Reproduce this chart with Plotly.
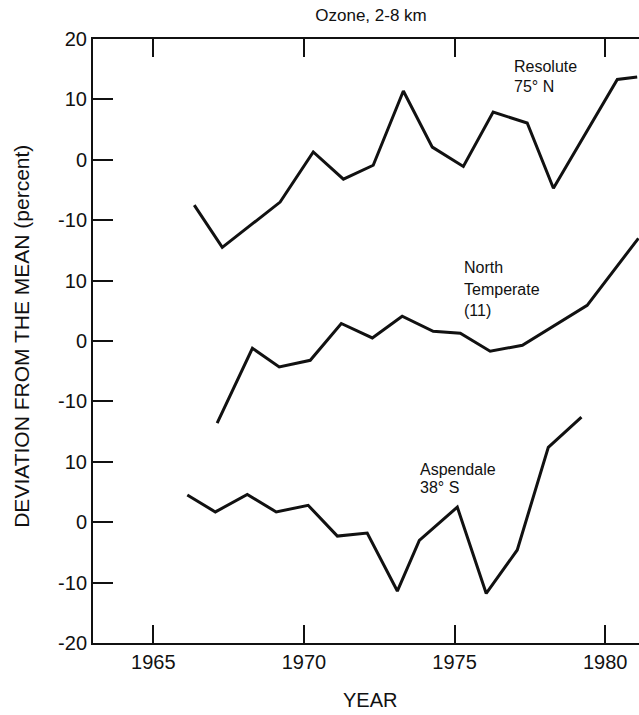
import plotly.graph_objects as go

# Ozone deviation from the mean (percent), 2-8 km layer
resolute_years = [1966.36, 1967.29, 1969.21, 1970.31, 1971.31, 1972.30, 1973.30,
                  1974.26, 1975.29, 1976.28, 1977.41, 1978.28, 1980.40, 1981.06]
resolute_vals = [-7.5, -14.5, -7.0, 1.3, -3.2, -0.9, 11.4,
                 2.1, -1.1, 7.9, 6.1, -4.7, 13.3, 13.7]

north_temp_years = [1967.12, 1968.29, 1969.18, 1970.21, 1971.24, 1972.27, 1973.26,
                    1974.29, 1975.19, 1976.18, 1977.25, 1979.40, 1981.10]
north_temp_vals = [-13.6, -1.2, -4.3, -3.2, 2.9, 0.5, 4.1,
                   1.6, 1.3, -1.7, -0.7, 5.9, 17.0]

aspendale_years = [1966.13, 1967.06, 1968.12, 1969.08, 1970.14, 1971.11, 1972.10,
                   1973.10, 1973.83, 1975.09, 1976.05, 1977.08, 1978.11, 1979.21]
aspendale_vals = [4.5, 1.7, 4.6, 1.7, 2.8, -2.3, -1.8,
                  -11.4, -3.0, 2.5, -11.8, -4.6, 12.4, 17.4]

# Each station panel is stacked on one shared axis, 30 units apart
offsets = {"resolute": 60, "north": 30, "aspendale": 0}

y_tickvals = [-20, -10, 0, 10, 20, 30, 40, 50, 60, 70, 80]
y_ticktext = ["-20", "-10", "0", "10", "-10", "0", "10", "-10", "0", "10", "20"]
x_tickvals = [1965, 1970, 1975, 1980]

FONT = "Liberation Sans, Arial, Helvetica, sans-serif"
INK = "#111111"

fig = go.Figure()
for xs, vs, key in [(resolute_years, resolute_vals, "resolute"),
                    (north_temp_years, north_temp_vals, "north"),
                    (aspendale_years, aspendale_vals, "aspendale")]:
    fig.add_trace(go.Scatter(
        x=xs, y=[v + offsets[key] for v in vs], mode="lines",
        line=dict(color=INK, width=3), showlegend=False, hoverinfo="skip"))

labels = [
    ("Resolute", 0.767, 0.955), ("75° N", 0.767, 0.922),
    ("North", 0.676, 0.6225), ("Temperate", 0.676, 0.586), ("(11)", 0.676, 0.55),
    ("Aspendale", 0.595, 0.287), ("38° S", 0.595, 0.257),
]
annotations = [dict(text=t, x=x, y=y, xref="paper", yref="paper", xanchor="left",
                    yanchor="middle", showarrow=False,
                    font=dict(family=FONT, size=16, color=INK)) for t, x, y in labels]
annotations.append(dict(text="YEAR", x=(370 - 93) / 546, y=-0.094, xref="paper",
                        yref="paper", xanchor="center", yanchor="middle",
                        showarrow=False, font=dict(family=FONT, size=20, color=INK)))
annotations.append(dict(text="DEVIATION FROM THE MEAN (percent)", x=-0.130, y=0.507,
                        xref="paper", yref="paper", xanchor="center", yanchor="middle",
                        textangle=-90, showarrow=False,
                        font=dict(family=FONT, size=21, color=INK)))

fig.update_layout(
    width=639, height=715,
    margin=dict(l=93, r=0, t=39, b=72),
    paper_bgcolor="white", plot_bgcolor="white",
    title=dict(text="Ozone, 2-8 km", x=(371) / 639, xanchor="center",
               y=1 - 15 / 715, yanchor="middle",
               font=dict(family=FONT, size=17, color=INK)),
    annotations=annotations,
    xaxis=dict(range=[1963, 1981.12], tickvals=x_tickvals, ticks="inside",
               ticklen=18, tickwidth=2, tickcolor=INK, showline=True,
               linecolor=INK, linewidth=2, mirror="ticks", showgrid=False,
               zeroline=False, tickfont=dict(family=FONT, size=20, color=INK)),
    yaxis=dict(range=[-20, 80], tickvals=y_tickvals, ticktext=y_ticktext,
               ticks="inside", ticklen=20, tickwidth=2, tickcolor=INK,
               showline=True, linecolor=INK, linewidth=2, showgrid=False,
               zeroline=False, tickfont=dict(family=FONT, size=20, color=INK)),
)

fig.write_html("out.html")
